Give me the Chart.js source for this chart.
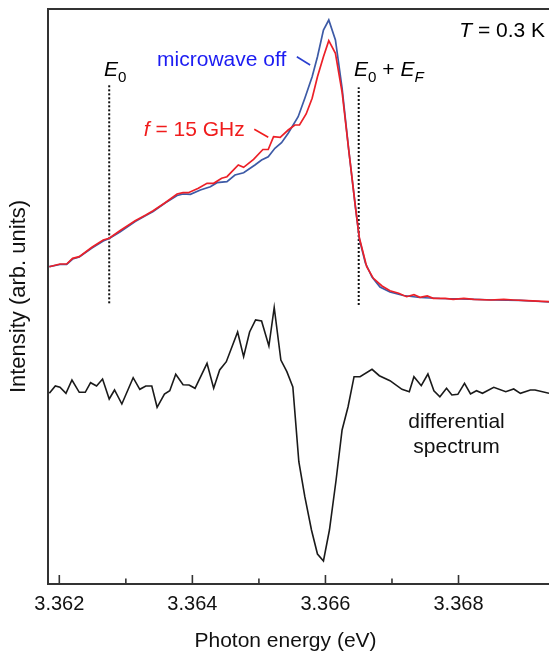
<!DOCTYPE html>
<html><head><meta charset="utf-8">
<script src="https://cdn.jsdelivr.net/npm/chart.js@4.4.0/dist/chart.umd.min.js"></script>
<style>html,body{margin:0;padding:0;background:#fff;}canvas{display:block;}</style>
</head><body>
<canvas id="c" width="549" height="653"></canvas>
<script>
const FONT = '"Liberation Sans", Arial, Helvetica, sans-serif';

// ---- Data (photon energy in eV, intensity in arbitrary units) ----
// microwave off
const offEnergy = [3.36185,3.36201,3.36211,3.36220,3.36230,3.36249,3.36266,3.36275,3.36291,3.36314,
  3.36330,3.36341,3.36359,3.36377,3.36386,3.36397,3.36412,3.36427,3.36437,3.36452,
  3.36464,3.36477,3.36494,3.36504,3.36514,3.36524,3.36534,3.36544,3.36559,3.36569,
  3.36580,3.36588,3.36597,3.36605,3.36615,3.36625,3.36635,3.36645,3.36651,3.36660,
  3.36670,3.36682,3.36697,3.36717,3.36742,3.36772,3.36803,3.36853,3.36893,3.36923,3.36936];
const offIntensity = [318.3,320.5,320.5,326,328,337,344,346.5,353,363.5,
  369.5,373.5,382,389.5,391,390.7,395,398.3,402.3,403.3,
  410,412.3,420,425,428.3,436.7,442.3,451.7,468.3,486.7,
  508.3,528.3,555,565,545,497,435,378.3,346,322,
  308,298,293,289.5,287.5,286.5,286.2,285,284.7,283.5,283.2];

// f = 15 GHz
const ghzEnergy = [3.36185,3.36201,3.36211,3.36220,3.36230,3.36249,3.36266,3.36275,3.36291,3.36314,
  3.36330,3.36341,3.36359,3.36377,3.36386,3.36394,3.36409,3.36422,3.36432,3.36444,
  3.36452,3.36469,3.36477,3.36492,3.36506,3.36514,3.36522,3.36532,3.36544,3.36554,
  3.36561,3.36571,3.36580,3.36588,3.36597,3.36605,3.36615,3.36625,3.36635,3.36645,
  3.36651,3.36662,3.36672,3.36685,3.36697,3.36710,3.36722,3.36733,3.36742,3.36753,
  3.36762,3.36780,3.36792,3.36808,3.36823,3.36848,3.36868,3.36883,3.36903,3.36936];
const ghzIntensity = [318.3,321,321,326.7,328.3,337.7,345,346.7,354.3,364.3,
  370,374.3,382.3,391,392.3,392.3,396.7,401.7,401.7,406.7,
  408.3,420,417.7,425.7,435.5,435.5,448.3,447.7,455,460,
  460,471,486.7,508.3,528.3,544.3,531.7,493,435,378.3,
  347,318.3,306.7,299,294.3,291.7,288.3,290.3,287.7,289,
  286.7,286.7,285.7,286.7,285.7,285,285.7,285,284.3,283.3];

// differential spectrum (offset)
const diffEnergy = [3.36185,3.36194,3.36201,3.36210,3.36219,3.36230,3.36239,3.36247,3.36256,3.36265,
  3.36275,3.36283,3.36294,3.36311,3.36321,3.36330,3.36339,3.36347,3.36358,3.36366,
  3.36375,3.36386,3.36395,3.36404,3.36422,3.36432,3.36441,3.36451,3.36468,3.36477,
  3.36486,3.36495,3.36504,3.36515,3.36523,3.36533,3.36542,3.36551,3.36560,3.36569,
  3.36579,3.36588,3.36597,3.36606,3.36616,3.36625,3.36634,3.36643,3.36652,3.36670,
  3.36681,3.36697,3.36715,3.36726,3.36733,3.36744,3.36754,3.36763,3.36772,3.36782,
  3.36790,3.36799,3.36809,3.36818,3.36827,3.36836,3.36853,3.36871,3.36883,3.36893,
  3.36908,3.36915,3.36936];
const diffSignal = [191.7,199,197.7,191.7,205,192.7,192.7,202.3,199,206,
  186,195,181,207.3,195.7,199,199,177.7,191,194.3,
  210.7,200.3,200,196.7,221.7,196.7,215,223.3,253,228.3,
  253,265,264,239,277.5,225,213.3,198,123.3,88.3,
  55,31,24,55,105,155,178.3,208.3,208.3,215.7,
  209.3,204.3,195.7,193.3,208.3,199.3,211,194.3,188.3,196.7,
  190,190.7,201.7,191,194.3,191.7,197.7,193.3,196,191.7,
  195,195,191.7];

// marker lines (E0 and E0 + EF)
const e0Energy = [3.36275, 3.36275];
const e0Level = [281.7, 500];
const efEnergy = [3.36650, 3.36650];
const efLevel = [280, 497.7];

// label leader lines
const offLeaderEnergy = [3.36557, 3.36577];
const offLeaderLevel = [528.3, 520];
const ghzLeaderEnergy = [3.36493, 3.36514];
const ghzLeaderLevel = [455.7, 447.7];

// axis ticks
const majorTicks = [3.362, 3.364, 3.366, 3.368];
const tickLabels = ['3.362', '3.364', '3.366', '3.368'];
const minorTicks = [3.363, 3.365, 3.367];

const pts = (xs, ys) => xs.map((x, i) => ({x, y: ys[i]}));

function drawRich(ctx, x, y, segs, size, align, color) {
  const parts = segs.map(s => {
    const fs = s.sub ? size * 0.72 : size;
    const font = (s.italic ? 'italic ' : '') + fs + 'px ' + FONT;
    ctx.font = font;
    return {t: s.t, font, w: ctx.measureText(s.t).width, dy: s.sub ? size * 0.27 : 0};
  });
  const total = parts.reduce((a, p) => a + p.w, 0);
  let cx = align === 'right' ? x - total : align === 'center' ? x - total / 2 : x;
  ctx.fillStyle = color;
  ctx.textAlign = 'left';
  ctx.textBaseline = 'alphabetic';
  for (const p of parts) { ctx.font = p.font; ctx.fillText(p.t, cx, y + p.dy); cx += p.w; }
}

const decor = {
  id: 'decor',
  afterDatasetsDraw(chart) {
    const {ctx, chartArea: a, scales: {x, y}} = chart;
    ctx.save();
    // top frame
    ctx.strokeStyle = '#333'; ctx.lineWidth = 2;
    ctx.beginPath(); ctx.moveTo(a.left - 1, a.top); ctx.lineTo(a.right, a.top); ctx.stroke();
    // inward tick marks
    ctx.lineWidth = 1.6;
    majorTicks.forEach(v => { const px = x.getPixelForValue(v); ctx.beginPath(); ctx.moveTo(px, a.bottom); ctx.lineTo(px, a.bottom - 9); ctx.stroke(); });
    minorTicks.forEach(v => { const px = x.getPixelForValue(v); ctx.beginPath(); ctx.moveTo(px, a.bottom); ctx.lineTo(px, a.bottom - 5.5); ctx.stroke(); });
    // annotations
    const X = v => x.getPixelForValue(v), Y = v => y.getPixelForValue(v);
    drawRich(ctx, X(3.36930), Y(548), [{t:'T', italic:true}, {t:' = 0.3 K'}], 21, 'right', '#000');
    drawRich(ctx, X(3.36267), Y(509), [{t:'E', italic:true}, {t:'0', sub:true}], 21, 'left', '#000');
    drawRich(ctx, X(3.36643), Y(509), [{t:'E', italic:true}, {t:'0', sub:true}, {t:' + '}, {t:'E', italic:true}, {t:'F', italic:true, sub:true}], 21, 'left', '#000');
    drawRich(ctx, X(3.36347), Y(519), [{t:'microwave off'}], 21, 'left', '#1c1cf2');
    drawRich(ctx, X(3.36327), Y(449), [{t:'f', italic:true}, {t:' = 15 GHz'}], 21, 'left', '#f01c1c');
    drawRich(ctx, X(3.36797), Y(156.7), [{t:'differential'}], 21, 'center', '#111');
    drawRich(ctx, X(3.36797), Y(131.7), [{t:'spectrum'}], 21, 'center', '#111');
    // x-axis title
    drawRich(ctx, 285.5, 647, [{t:'Photon energy (eV)'}], 21, 'center', '#111');
    ctx.restore();
  }
};

const line = (data, color, width, extra) => Object.assign({
  data, borderColor: color, borderWidth: width, pointRadius: 0, tension: 0, fill: false
}, extra || {});

new Chart(document.getElementById('c'), {
  type: 'line',
  data: {
    datasets: [
      line(pts(ghzEnergy, ghzIntensity), '#ec2028', 1.7, {label: 'f = 15 GHz', order: 0}),
      line(pts(offEnergy, offIntensity), '#3d5aa6', 1.7, {label: 'microwave off', order: 1}),
      line(pts(diffEnergy, diffSignal), '#1a1a1a', 1.6, {label: 'differential spectrum', order: 2}),
      line(pts(e0Energy, e0Level), '#111', 2, {label: 'E0', borderDash: [2, 2], order: 3}),
      line(pts(efEnergy, efLevel), '#111', 2, {label: 'E0 + EF', borderDash: [2, 2], order: 3}),
      line(pts(offLeaderEnergy, offLeaderLevel), '#2a3fd0', 1.6, {label: 'leader off', order: 4}),
      line(pts(ghzLeaderEnergy, ghzLeaderLevel), '#f01c1c', 1.6, {label: 'leader ghz', order: 4})
    ]
  },
  options: {
    responsive: false,
    animation: false,
    devicePixelRatio: 1,
    layout: {padding: {top: 9, left: 0, right: 0, bottom: 0}},
    plugins: {legend: {display: false}, tooltip: {enabled: false}},
    scales: {
      x: {
        type: 'linear', min: 3.36183, max: 3.36936,
        afterBuildTicks: s => { s.ticks = majorTicks.map(v => ({value: v})); },
        afterFit: s => { s.height = 69; },
        ticks: {autoSkip: false, maxRotation: 0, padding: 8, color: '#111',
          font: {family: FONT, size: 20},
          callback: v => tickLabels[majorTicks.findIndex(m => Math.abs(m - v) < 1e-7)]},
        grid: {display: false, drawTicks: false},
        border: {display: true, color: '#333', width: 2}
      },
      y: {
        min: 1, max: 576,
        afterFit: s => { s.width = 48; },
        ticks: {display: false},
        grid: {display: false, drawTicks: false},
        border: {display: true, color: '#333', width: 2},
        title: {display: true, text: 'Intensity (arb. units)', color: '#111',
          font: {family: FONT, size: 22}, padding: {top: 6, bottom: 0}}
      }
    }
  },
  plugins: [decor]
});
</script>
</body></html>
